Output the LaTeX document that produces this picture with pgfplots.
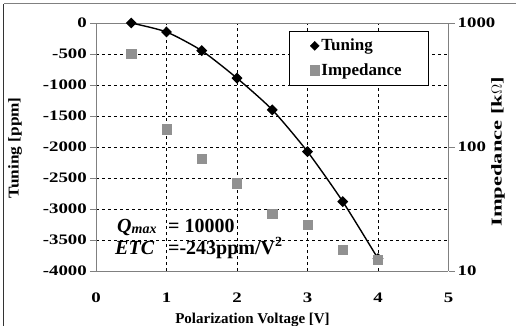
\documentclass[border=0pt]{standalone}
\usepackage{fontspec}
\setmainfont{Liberation Serif}
\newfontfamily\wide[FakeStretch=1.3]{Liberation Serif}
\newfontfamily\ylabfont[FakeStretch=1.15]{Liberation Serif}
\newfontfamily\zlabfont[FakeStretch=1.5]{Liberation Serif}
\usepackage{pgfplots}
\pgfplotsset{compat=1.18}
\definecolor{axgray}{RGB}{128,128,128}
\definecolor{sqgray}{RGB}{145,145,145}
\begin{document}
\begin{tikzpicture}[x=1pt,y=1pt]
\useasboundingbox (-96,-55) rectangle (420,271);
\fill[white] (-96,-55) rectangle (420,271);
\draw[axgray,line width=1pt] (-92,267) -- (420,267);
\draw[black!80,line width=1pt] (-92,267) -- (-92,-55);
\begin{axis}[
  at={(0,0)}, anchor=south west,
  width=352.5pt, height=248pt, scale only axis,
  xmin=0, xmax=5, ymin=-4000, ymax=0,
  xtick={0,1,2,3,4,5},
  ytick={-4000,-3500,-3000,-2500,-2000,-1500,-1000,-500,0},
  axis y line*=left, axis x line*=bottom,
  axis line style={axgray,line width=0.8pt,-},
  major x tick style={draw=none},
  major y tick style={axgray,line width=0.8pt},
  tick align=outside, major tick length=6pt,
  grid=major,
  major grid style={black,dashed,line width=0.6pt},
  /pgf/number format/assume math mode=true,
  /pgf/number format/1000 sep={},
  ticklabel style={font=\wide\bfseries\fontsize{14.5}{15}\selectfont, inner sep=0pt},
  yticklabel style={anchor=east, xshift=-3pt},
  xticklabel style={anchor=base, yshift=-25pt},
  xlabel={Polarization Voltage [V]},
  ylabel={Tuning [ppm]},
  xlabel style={font=\bfseries\fontsize{15}{16}\selectfont, at={(axis description cs:0.444,-0.21)}, anchor=base, inner sep=0pt},
  ylabel style={font=\ylabfont\bfseries\fontsize{15}{16}\selectfont, at={(axis description cs:-0.2298,0.496)}, anchor=center, inner sep=0pt},
  clip=false,
]
\draw[axgray,line width=0.8pt] (axis cs:0,0) -- (axis cs:5,0);
\draw[axgray,line width=0.8pt] (axis cs:0,-4000) -- ++(0,-5pt);
\addplot[black, line width=1.4pt, smooth, tension=0.4, mark=diamond*, mark size=4.5pt, mark options={solid, fill=black, xscale=1.33}]
  coordinates {(0.5,0) (1,-145) (1.5,-447) (2,-890) (2.5,-1400) (3,-2075) (3.5,-2880) (4,-3800)};
\node[anchor=base west, inner sep=0pt, font=\bfseries\itshape\fontsize{20}{20}\selectfont] at (axis cs:0.298,-3371) {Q\raisebox{-0.2ex}{\fontsize{14}{14}\selectfont max}};
\node[anchor=base west, inner sep=0pt, font=\bfseries\fontsize{20}{20}\selectfont] at (axis cs:1.021,-3371) {= 10000};
\node[anchor=base west, inner sep=0pt, font=\bfseries\itshape\fontsize{20}{20}\selectfont] at (axis cs:0.270,-3726) {ETC};
\node[anchor=base west, inner sep=0pt, font=\bfseries\fontsize{20}{20}\selectfont] at (axis cs:1.021,-3726) {=-243ppm/V\textsuperscript{2}};
\fill[white] (axis description cs:0.5475,0.9677) rectangle (axis description cs:0.9418,0.75);
\draw[black,line width=0.6pt] (axis description cs:0.5475,0.9677) rectangle (axis description cs:0.9418,0.75);
\end{axis}
\begin{axis}[
  at={(0,0)}, anchor=south west,
  width=352.5pt, height=248pt, scale only axis,
  xmin=0, xmax=5, ymode=log, ymin=10, ymax=1000,
  ytick={10,100,1000}, yticklabels={10,100,1000},
  axis y line*=right, axis x line=none,
  axis line style={axgray,line width=0.8pt,-},
  major y tick style={axgray,line width=0.8pt},
  minor y tick style={draw=none},
  tick align=outside, major tick length=6pt,
  ticklabel style={font=\wide\bfseries\fontsize{14.5}{15}\selectfont, inner sep=0pt},
  yticklabel style={anchor=west, xshift=3pt},
  ylabel={Impedance [k$\Omega$]},
  ylabel style={font=\zlabfont\bfseries\fontsize{15}{16}\selectfont, at={(axis description cs:1.1404,0.48)}, anchor=center, inner sep=0pt},
  legend style={at={(0.5986,0.9637)}, anchor=north west, draw=none, fill=none,
    font=\bfseries\fontsize{17}{18}\selectfont, inner ysep=5pt,
    row sep=7pt, cells={anchor=west}},
  legend cell align=left,
  legend image code/.code={\draw[#1] plot coordinates {(0pt,0pt)};},
]
\addlegendimage{black, mark=diamond*, mark size=4.5pt, mark options={xscale=1.33}}
\addlegendentry{Tuning}
\addplot[only marks, mark=square*, mark size=4.6pt, color=sqgray]
  coordinates {(0.5,562) (1,139) (1.5,80) (2,51) (2.5,29) (3,23.5) (3.5,14.8) (4,12.3)};
\addlegendentry{Impedance}
\end{axis}
\end{tikzpicture}
\end{document}
